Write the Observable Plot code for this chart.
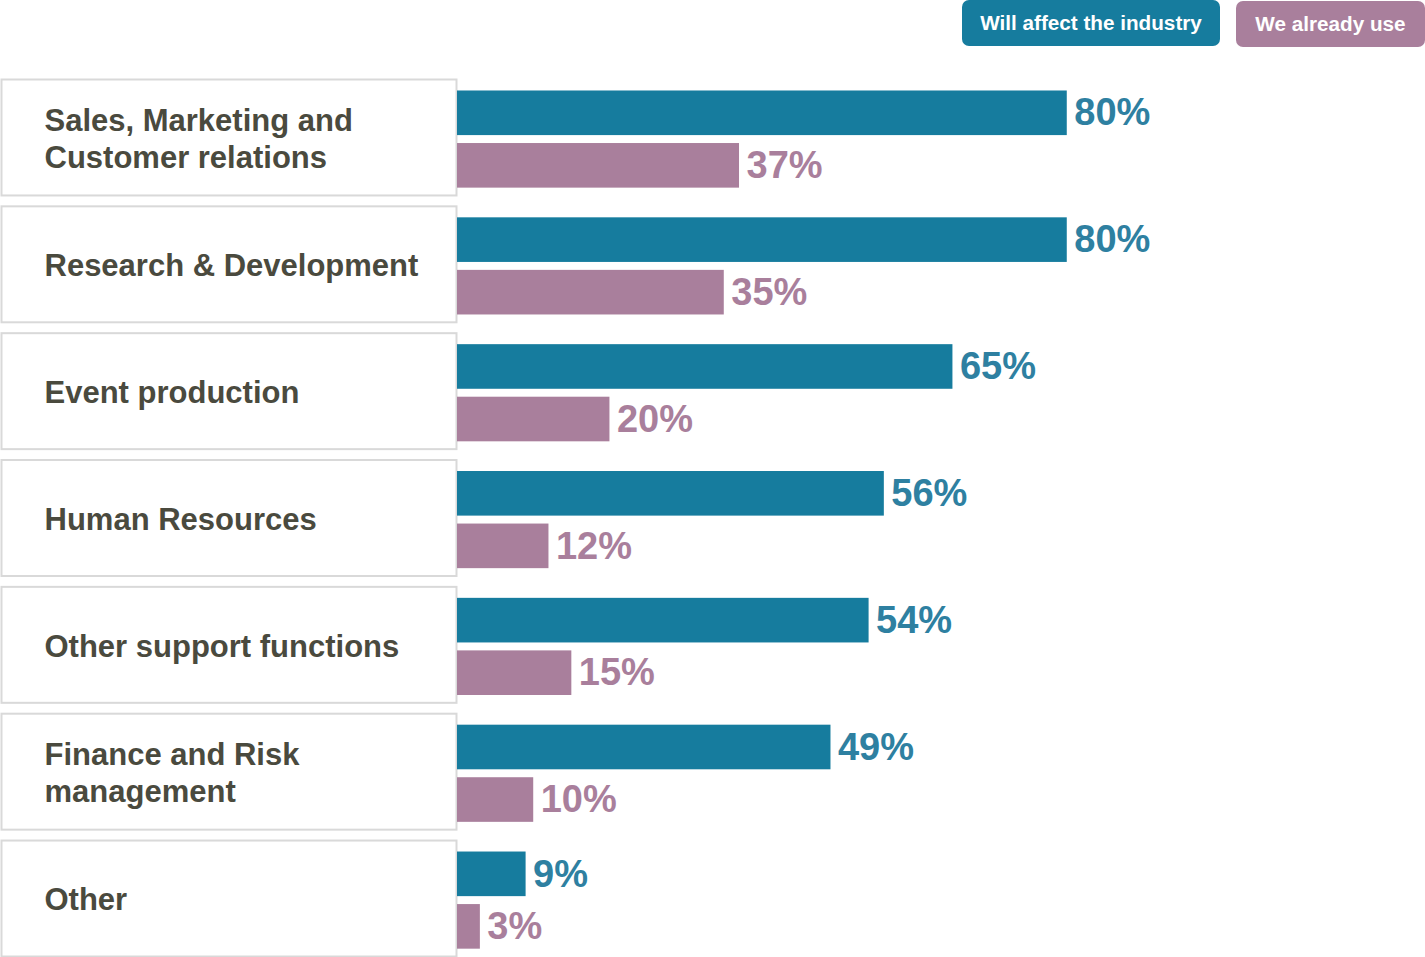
<!DOCTYPE html>
<html>
<head>
<meta charset="utf-8">
<script src="https://cdn.jsdelivr.net/npm/d3@7"></script>
<script src="https://cdn.jsdelivr.net/npm/@observablehq/plot@0.6"></script>
<style>
  html, body { margin: 0; padding: 0; background: #fff; }
  body { font-family: "Liberation Sans", Arial, sans-serif; width: 1425px; }
  #legend { position: relative; height: 78px; }
  .key { position: absolute; color: #fff; font-weight: bold; font-size: 20.7px;
         border-radius: 7px; display: flex; align-items: center; justify-content: center; box-sizing: border-box; }
  #chart svg { display: block; }
</style>
</head>
<body>
<div id="legend"></div>
<div id="chart"></div>
<script>
// ---- data ----
const categories = [
  "Sales, Marketing and\nCustomer relations",
  "Research & Development",
  "Event production",
  "Human Resources",
  "Other support functions",
  "Finance and Risk\nmanagement",
  "Other"
];
const series = ["Will affect the industry", "We already use"];
const willAffect = [80, 80, 65, 56, 54, 49, 9];
const alreadyUse = [37, 35, 20, 12, 15, 10, 3];

// ---- styles / layout ----
const barColors = ["#167c9e", "#a97f9c"];
const labelColors = ["#2e80a1", "#a97f9c"];
const WIDTH = 1425, LABEL_W = 457, HEIGHT = 879;

const data = categories.flatMap((c, i) => [
  {category: c, series: series[0], value: willAffect[i]},
  {category: c, series: series[1], value: alreadyUse[i]}
]);

// legend (HTML, above the SVG)
const legend = document.getElementById("legend");
const keyBoxes = [{left: 962, width: 258, top: 0}, {left: 1236, width: 189, top: 1}];
series.forEach((s, i) => {
  const el = document.createElement("div");
  el.className = "key";
  el.textContent = s;
  el.style.background = barColors[i];
  el.style.left = keyBoxes[i].left + "px";
  el.style.top = keyBoxes[i].top + "px";
  el.style.width = keyBoxes[i].width + "px";
  el.style.height = "46px";
  legend.appendChild(el);
});

const chart = Plot.plot({
  width: WIDTH,
  height: HEIGHT,
  marginLeft: 0, marginRight: 0, marginTop: 0, marginBottom: 0,
  style: {fontFamily: "Liberation Sans, Arial, sans-serif", background: "#fff"},
  x: {domain: [0, 127], range: [LABEL_W, WIDTH], axis: null},
  y: {domain: series, paddingInner: 0.151, paddingOuter: 0.198, align: 0.6, round: false, axis: null},
  fy: {domain: categories, paddingInner: 0.07, paddingOuter: 0, round: false, axis: null},
  color: {domain: series, range: barColors},
  marks: [
    Plot.frame({stroke: "#d9d9d9", strokeWidth: 2, fill: "#fff",
      insetLeft: 1, insetTop: 1, insetBottom: 1, insetRight: WIDTH - LABEL_W + 1}),
    Plot.text(categories, {fy: d => d, text: d => d, frameAnchor: "left", dx: 44,
      fontSize: 31, fontWeight: "bold", fill: "#4a4a3e", lineHeight: 1.2}),
    Plot.barX(data, {fy: "category", y: "series", x: "value", fill: "series"}),
    Plot.text(data, {fy: "category", y: "series", x: "value", text: d => d.value + "%",
      textAnchor: "start", dx: 7, fontSize: 38, fontWeight: "bold",
      fill: d => labelColors[series.indexOf(d.series)]})
  ]
});
document.getElementById("chart").appendChild(chart);
</script>
</body>
</html>
